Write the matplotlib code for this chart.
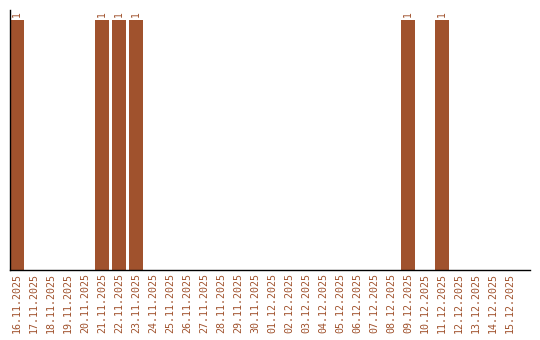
import matplotlib
matplotlib.use("Agg")
import matplotlib.pyplot as plt

dates = ["16.11.2025", "17.11.2025", "18.11.2025", "19.11.2025", "20.11.2025",
         "21.11.2025", "22.11.2025", "23.11.2025", "24.11.2025", "25.11.2025",
         "26.11.2025", "27.11.2025", "28.11.2025", "29.11.2025", "30.11.2025",
         "01.12.2025", "02.12.2025", "03.12.2025", "04.12.2025", "05.12.2025",
         "06.12.2025", "07.12.2025", "08.12.2025", "09.12.2025", "10.12.2025",
         "11.12.2025", "12.12.2025", "13.12.2025", "14.12.2025", "15.12.2025"]
counts = [1, 0, 0, 0, 0, 1, 1, 1, 0, 0, 0, 0, 0, 0, 0,
          0, 0, 0, 0, 0, 0, 0, 0, 1, 0, 1, 0, 0, 0, 0]

color = "#A0522D"
W, H = 540, 340
fig = plt.figure(figsize=(W / 100, H / 100), dpi=100)
ax = fig.add_axes([10 / W, 70 / H, 520 / W, 260 / H])

x = list(range(len(dates)))
bw = 14 / 17
ax.bar(x, counts, width=bw, color=color)
for xi, v in zip(x, counts):
    if v:
        ax.text(xi, v + 0.012, str(v), rotation=90, ha="center", va="bottom",
                fontsize=7, family="DejaVu Sans Mono", color=color)

ax.set_xlim(-bw / 2, 30.18)
ax.set_ylim(0, 1.04)
ax.set_xticks(x)
ax.set_xticklabels(dates, rotation=90, family="DejaVu Sans Mono", fontsize=7.2, color=color)
ax.tick_params(axis="x", length=0, pad=2.5)
ax.set_yticks([])
for s in ["top", "right"]:
    ax.spines[s].set_visible(False)
ax.spines["left"].set_linewidth(1)
ax.spines["bottom"].set_linewidth(1)

fig.savefig("out.png", dpi=100)
